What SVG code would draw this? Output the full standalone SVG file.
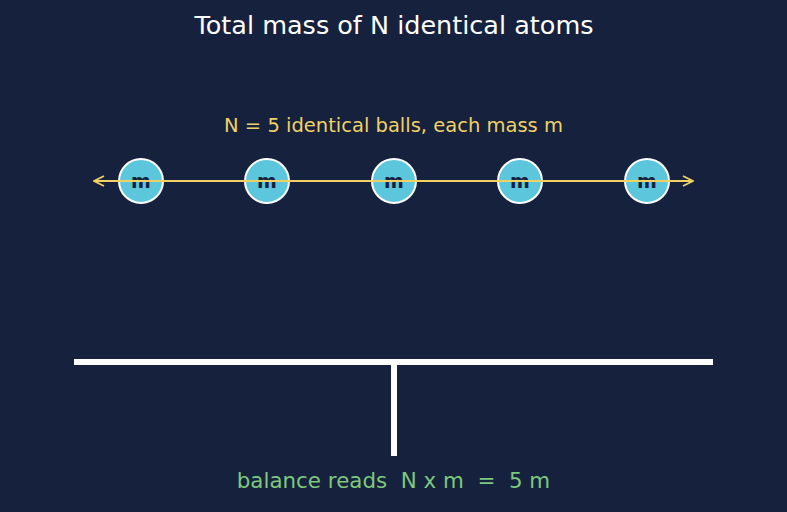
<svg xmlns="http://www.w3.org/2000/svg" width="787" height="512" viewBox="0 0 787 512">
<defs>
<marker id="arr" viewBox="0 0 12 12" refX="11" refY="6" markerWidth="12" markerHeight="12" markerUnits="userSpaceOnUse" orient="auto-start-reverse">
<path d="M1,1 L11,6 L1,11" fill="none" stroke="#f0d264" stroke-width="1.8"/>
</marker>
<style>
.t{font-family:"DejaVu Sans","Liberation Sans",sans-serif;text-anchor:middle}
.ball circle{fill:#5bc6dc;stroke:#ffffff;stroke-width:2}
.ball text{font-family:"DejaVu Sans","Liberation Sans",sans-serif;font-weight:bold;font-size:19px;fill:#16213e;text-anchor:middle}
</style>
</defs>
<rect width="787" height="512" fill="#16213e"/>
<text class="t" x="394" y="34" font-size="25.5" fill="#ffffff">Total mass of N identical atoms</text>
<text class="t" x="393.5" y="132" font-size="19.5" fill="#f0d264">N = 5 identical balls, each mass m</text>
<g id="ball1" class="ball"><circle cx="141" cy="181" r="22"/><text x="141" y="188">m</text></g>
<g id="ball2" class="ball"><circle cx="267" cy="181" r="22"/><text x="267" y="188">m</text></g>
<g id="ball3" class="ball"><circle cx="394" cy="181" r="22"/><text x="394" y="188">m</text></g>
<g id="ball4" class="ball"><circle cx="520" cy="181" r="22"/><text x="520" y="188">m</text></g>
<g id="ball5" class="ball"><circle cx="647" cy="181" r="22"/><text x="647" y="188">m</text></g>
<g id="connectors">
<line x1="94" y1="181" x2="693" y2="181" stroke="#f0d264" stroke-width="1.8" marker-start="url(#arr)" marker-end="url(#arr)"/>
</g>
<g id="balance">
<rect x="74" y="359" width="639" height="6" fill="#ffffff"/>
<rect x="391" y="362" width="6" height="94" fill="#ffffff"/>
</g>
<text class="t" x="393.5" y="488" font-size="21.4" fill="#7dc87d" xml:space="preserve">balance reads  N x m  =  5 m</text>
</svg>
